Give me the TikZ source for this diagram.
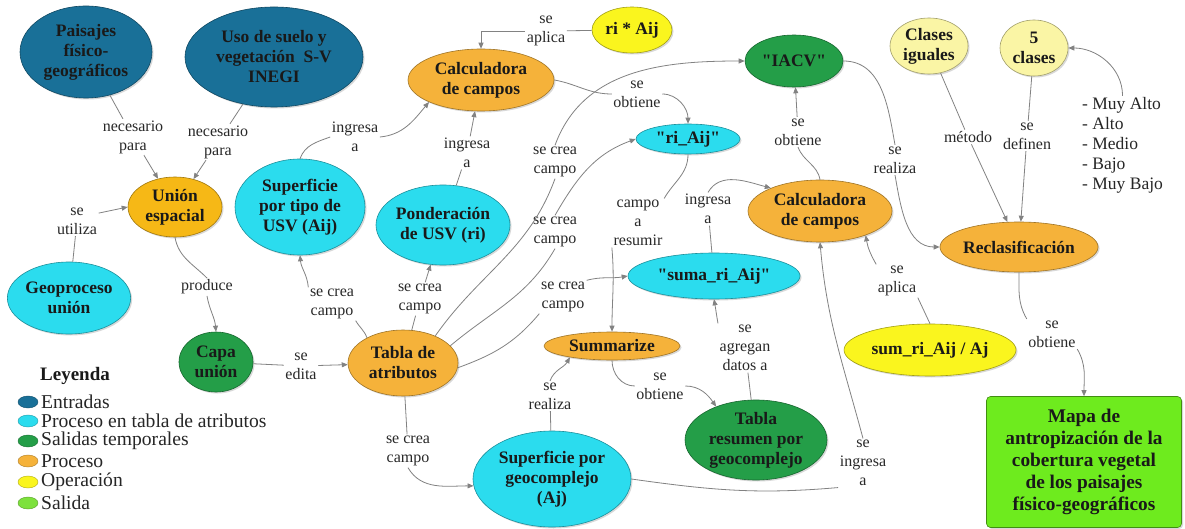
\documentclass[tikz,border=0pt]{standalone}
\usepackage{fontspec}
\setmainfont{Liberation Serif}[Ligatures=TeXOff]
\usetikzlibrary{shapes.geometric,arrows.meta,shadows}
\definecolor{cblue}{RGB}{25,112,152}
\definecolor{ccyan}{RGB}{43,220,238}
\definecolor{cgreen}{RGB}{36,158,72}
\definecolor{corange}{RGB}{245,178,58}
\definecolor{cgold}{RGB}{246,184,22}
\definecolor{cyellow}{RGB}{250,245,30}
\definecolor{cpale}{RGB}{250,245,165}
\definecolor{clime}{RGB}{110,235,30}
\definecolor{clegl}{RGB}{125,225,60}
\definecolor{lblcol}{RGB}{40,40,40}
\definecolor{lncol}{RGB}{130,130,130}
\newcommand\nodefnt{\fontsize{17.5}{20}\selectfont\bfseries}
\newcommand\lblfnt{\fontsize{16}{19}\selectfont}
\newcommand\legfnt{\fontsize{19.6}{21}\selectfont}
\begin{document}
\begin{tikzpicture}[x=1pt,y=-1pt,
  ell/.style={ellipse, fill=#1, draw=#1!65!black, line width=0.6pt, inner sep=0pt,
    align=center, font=\nodefnt, text=black!90,
    drop shadow={opacity=0.3,shadow xshift=1.5pt,shadow yshift=-1.5pt}},
  lbl/.style={font=\lblfnt, text=lblcol, align=center, inner sep=1.5pt},
  ln/.style={draw=lncol, line width=0.8pt},
  arr/.style={ln, -{Triangle[length=6pt,width=5pt]}},
  legdot/.style={ellipse, fill=#1, draw=#1!70!black, line width=0.4pt, minimum width=20pt, minimum height=12pt, inner sep=0pt},
  legtxt/.style={anchor=west, font=\legfnt, text=black!85, inner sep=0pt}
]
\useasboundingbox (0,0) rectangle (1185,529);
\fill[white] (0,0) rectangle (1185,529);

% ---------- concept nodes ----------
\node[ell=cblue, minimum width=132pt, minimum height=92pt] (paisajes) at (86,52) {Paisajes\\físico-\\geográficos};
\node[ell=cblue, minimum width=178pt, minimum height=100pt] (uso) at (274,57) {Uso de suelo y\\vegetación \ S-V\\INEGI};
\node[ell=corange, minimum width=146pt, minimum height=62pt] (calc1) at (481,80) {Calculadora\\de campos};
\node[ell=cyellow, minimum width=80pt, minimum height=46pt] (riaij) at (632,30) {ri * Aij};
\node[ell=cgreen, minimum width=98pt, minimum height=52pt] (iacv) at (794,61) {"IACV"};
\node[ell=ccyan, minimum width=104pt, minimum height=30pt] (riaij2) at (688,139) {"ri\_Aij"};
\node[ell=cpale, minimum width=78pt, minimum height=56pt] (clases) at (929,46) {Clases\\iguales};
\node[ell=cpale, minimum width=68pt, minimum height=56pt] (cinco) at (1034,48) {5\\clases};
\node[anchor=west, font=\fontsize{17.5}{20}\selectfont, text=black!85, align=left, inner sep=1pt] (lista) at (1081,145)
  {- Muy Alto\\- Alto\\- Medio\\- Bajo\\- Muy Bajo};
\node[ell=cgold, minimum width=94pt, minimum height=60pt] (union) at (175,207) {Unión\\espacial};
\node[ell=ccyan, minimum width=118pt, minimum height=72pt] (geo) at (69,298) {Geoproceso\\unión};
\node[ell=ccyan, minimum width=130pt, minimum height=96pt] (sutipo) at (300,207) {Superficie\\por tipo de\\USV (Aij)};
\node[ell=ccyan, minimum width=134pt, minimum height=80pt] (pond) at (443,225) {Ponderación\\de USV (ri)};
\node[ell=corange, minimum width=144pt, minimum height=62pt] (calc2) at (820,211) {Calculadora\\de campos};
\node[ell=ccyan, minimum width=172pt, minimum height=46pt] (suma) at (714,276) {"suma\_ri\_Aij"};
\node[ell=corange, minimum width=156pt, minimum height=50pt] (reclass) at (1019,247) {Reclasificación};
\node[ell=cyellow, minimum width=172pt, minimum height=52pt] (sum) at (930,350) {sum\_ri\_Aij / Aj};
\node[ell=cgreen, minimum width=74pt, minimum height=60pt] (capa) at (216,362) {Capa\\unión};
\node[ell=corange, minimum width=110pt, minimum height=66pt] (tabla) at (403,363) {Tabla de\\atributos};
\node[ell=corange, minimum width=136pt, minimum height=28pt] (summ) at (612,346) {Summarize};
\node[ell=cgreen, minimum width=142pt, minimum height=80pt] (tabres) at (756,440) {Tabla\\resumen por\\geocomplejo};
\node[ell=ccyan, minimum width=158pt, minimum height=96pt] (supgeo) at (552,479) {Superficie por\\geocomplejo\\(Aj)};
\node[rectangle, rounded corners=4pt, fill=clime, draw=clime!60!black, line width=0.6pt,
  minimum width=195pt, minimum height=131pt, inner sep=0pt, align=center,
  font=\fontsize{19.3}{22}\selectfont\bfseries, text=black!90,
  drop shadow={opacity=0.3,shadow xshift=1.5pt,shadow yshift=-1.5pt}] (mapa) at (1084,462)
  {Mapa de\\antropización de la\\cobertura vegetal\\de los paisajes\\físico-geográficos};

% ---------- link labels ----------
\node[lbl] (L1) at (133,137) {necesario\\para};
\node[lbl] (L2) at (218,142) {necesario\\para};
\node[lbl] (L3) at (77,221) {se\\utiliza};
\node[lbl] (L4) at (207,287) {produce};
\node[lbl] (L5) at (301,366) {se\\edita};
\node[lbl] (L6) at (332,304) {se crea\\campo};
\node[lbl] (L7) at (420,299) {se crea\\campo};
\node[lbl] (L8) at (355,137) {ingresa\\a};
\node[lbl] (L9) at (467,153) {ingresa\\a};
\node[lbl] (L10) at (546,31) {se\\aplica};
\node[lbl] (L11) at (637,94) {se\\obtiene};
\node[lbl] (L12a) at (555,162) {se crea\\campo};
\node[lbl] (L12b) at (555,232) {se crea\\campo};
\node[lbl] (L12c) at (563,297) {se crea\\campo};
\node[lbl] (L13) at (638,223) {campo\\a\\resumir};
\node[lbl] (L14) at (708,209) {ingresa\\a};
\node[lbl] (L15) at (798,132) {se\\obtiene};
\node[lbl] (L16) at (895,160) {se\\realiza};
\node[lbl] (L17) at (968,137) {método};
\node[lbl] (L18) at (1027,136) {se\\definen};
\node[lbl] (L20) at (897,281) {se\\aplica};
\node[lbl] (L21) at (1052,334) {se\\obtiene};
\node[lbl] (L22) at (660,386) {se\\obtiene};
\node[lbl] (L23) at (745,348) {se\\agregan\\datos a};
\node[lbl] (L24) at (550,396) {se\\realiza};
\node[lbl] (L25) at (408,451) {se crea\\campo};
\node[lbl] (L26) at (863,463) {se\\ingresa\\a};

% ---------- connectors ----------
\draw[ln] (paisajes) -- (L1);  \draw[arr] (L1) -- (union);
\draw[ln] (uso) -- (L2);       \draw[arr] (L2) -- (union);
\draw[ln] (geo) -- (L3);       \draw[arr] (L3.20) -- (union.west);
\draw[ln] (union.south) to[out=-80,in=135] (L4.north);
\draw[arr] (L4.south) to[out=-80,in=95] (capa.north);
\draw[ln] (capa) -- (L5);      \draw[arr] (L5) -- (tabla);
\draw[ln] (tabla.145) to[out=110,in=-60] (L6.south east);
\draw[arr] (L6.north west) to[out=95,in=-85] (sutipo.south);
\draw[ln] (tabla) -- (L7);     \draw[arr] (L7) -- (pond);
\draw[ln] (sutipo.north) to[out=70,in=200] (L8.west);
\draw[arr] (L8.east) to[out=5,in=230] (calc1.203);
\draw[ln] (pond) -- (L9);      \draw[arr] (L9) -- (calc1);
\draw[ln] (riaij) -- (L10);    \draw[arr] (L10.west) -| (calc1.north);
\draw[ln] (calc1.east) to[out=-10,in=180] (L11.west);
\draw[arr] (L11.east) to[out=0,in=90] (riaij2.north);
\draw[ln] (tabla.40) to[out=55,in=-110] (L12a.south);
\draw[arr] (L12a.north) to[out=70,in=180] (iacv.west);
\draw[ln] (tabla.20) to[out=40,in=-120] (L12b.south);
\draw[arr] (L12b.north) to[out=60,in=200] (riaij2.west);
\draw[ln] (tabla.-5) to[out=20,in=-130] (L12c.south west);
\draw[arr] (L12c.north east) to[out=15,in=190] (suma.west);
\draw[ln] (riaij2.south) to[out=-90,in=60] (L13.north east);
\draw[arr] (L13.south west) to[out=-85,in=90] (summ.north);
\draw[ln] (suma) -- (L14);
\draw[arr] (L14.north) to[out=60,in=165] (calc2.155);
\draw[ln] (calc2.north) to[out=100,in=-70] (L15.south);
\draw[arr] (L15) -- (iacv);
\draw[ln] (iacv.east) to[out=0,in=100] (L16.north);
\draw[arr] (L16.south) to[out=-80,in=180] (reclass.west);
\draw[ln] (clases) -- (L17);   \draw[arr] (L17) -- (reclass);
\draw[ln] (cinco) -- (L18);    \draw[arr] (L18) -- (reclass);
\draw[arr] (lista.north) to[out=90,in=0] (cinco.east);
\draw[ln] (sum.north) -- (L20.south east);
\draw[arr] (L20.north west) to[out=120,in=-80] (calc2.-28);
\draw[ln] (reclass.south) to[out=-90,in=120] (L21.north west);
\draw[arr] (L21.south east) to[out=-60,in=90] (mapa.north);
\draw[ln] (summ.south) to[out=-90,in=180] (L22.west);
\draw[arr] (L22.east) to[out=0,in=125] (tabres.140);
\draw[ln] (tabres) -- (L23);
\draw[arr] (L23.north west) to[out=100,in=-80] (suma.south);
\draw[ln] (supgeo) -- (L24);
\draw[arr] (L24.north) to[out=70,in=-120] (summ.195);
\draw[ln] (tabla) -- (L25);
\draw[arr] (L25.south) to[out=-60,in=180] (supgeo.185);
\draw[ln] (supgeo.east) to[out=-8,in=185] (L26.south west);
\draw[arr] (L26.north) to[out=105,in=-85] (calc2.south);

% ---------- legend ----------
\node[anchor=west, font=\fontsize{19}{21}\selectfont\bfseries, text=black!90, inner sep=0pt] (leyenda) at (40,376) {Leyenda};
\node[legdot=cblue]   (d1) at (28,402) {};
\node[legtxt] (t1) at (41,402) {Entradas};
\node[legdot=ccyan]   (d2) at (28,421) {};
\node[legtxt] (t2) at (41,421) {Proceso en tabla de atributos};
\node[legdot=cgreen]  (d3) at (28,441) {};
\node[legtxt] (t3) at (41,441) {Salidas temporales};
\node[legdot=corange] (d4) at (28,461) {};
\node[legtxt] (t4) at (41,461) {Proceso};
\node[legdot=cyellow] (d5) at (28,482) {};
\node[legtxt] (t5) at (41,482) {Operación};
\node[legdot=clegl]   (d6) at (28,503) {};
\node[legtxt] (t6) at (41,503) {Salida};
\end{tikzpicture}
\end{document}
